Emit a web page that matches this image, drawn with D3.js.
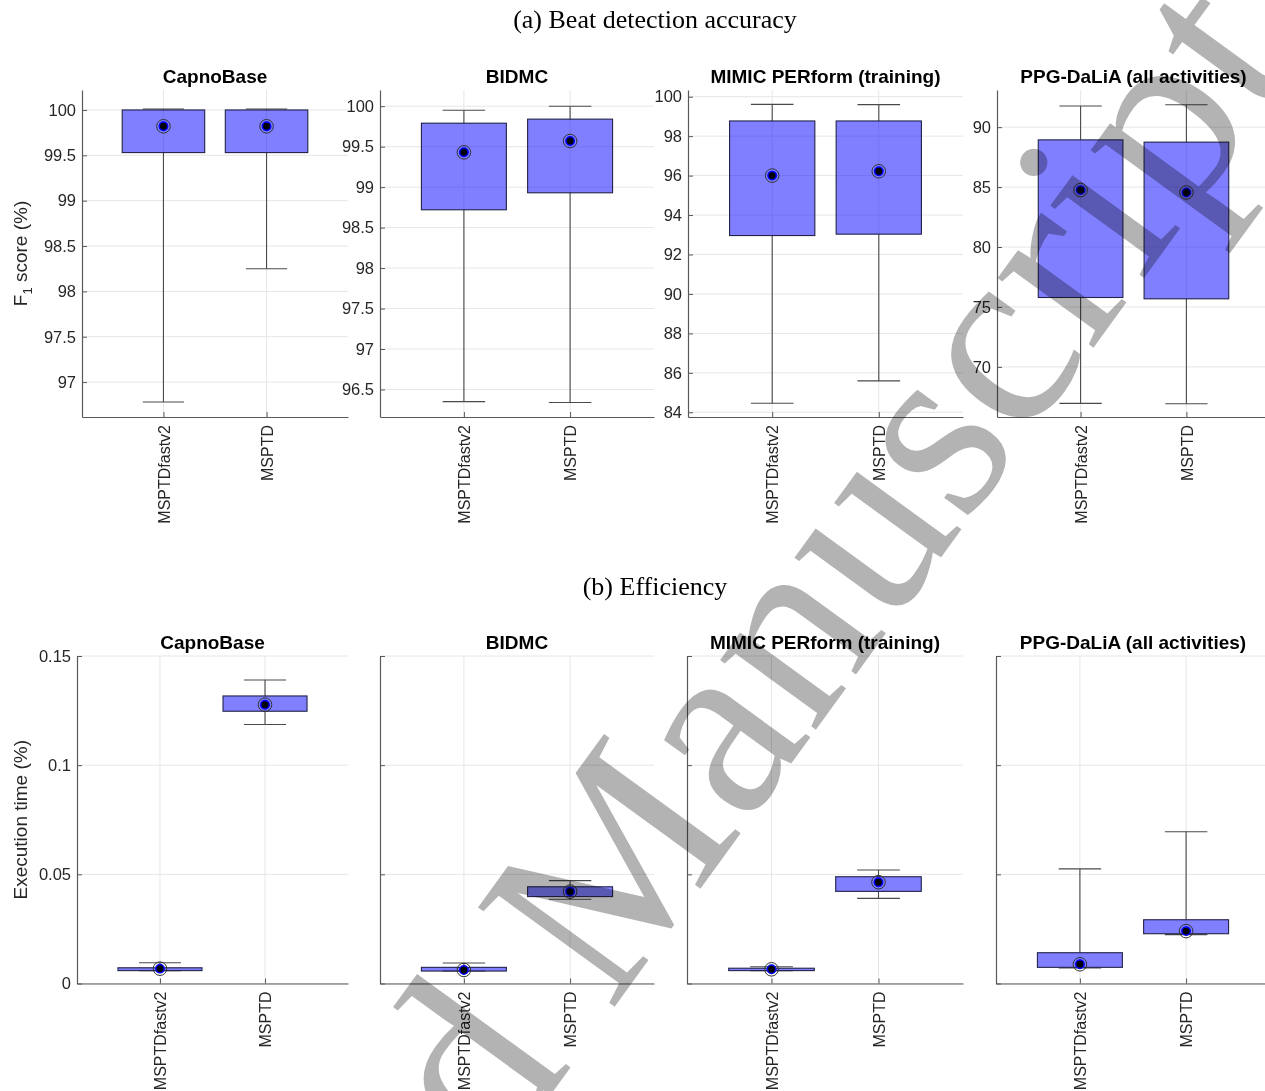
<!DOCTYPE html>
<html>
<head>
<meta charset="utf-8">
<script src="https://cdn.jsdelivr.net/npm/d3@7"></script>
<style>
  body { margin: 0; background: #fff; }
  svg { display: block; }
</style>
</head>
<body>
<svg id="fig" width="1265" height="1091"></svg>
<script>
// ---- data -------------------------------------------------------------
const methods = ["MSPTDfastv2", "MSPTD"];
const datasets = ["CapnoBase", "BIDMC", "MIMIC PERform (training)", "PPG-DaLiA (all activities)"];

// F1 score (%) box statistics: one [MSPTDfastv2, MSPTD] pair per dataset
const f1WhiskerLow  = [[96.78, 98.25], [96.35, 96.34], [84.46, 85.59], [66.96, 66.92]];
const f1Q1          = [[99.53, 99.53], [98.72, 98.93], [92.96, 93.03], [75.79, 75.68]];
const f1Median      = [[99.82, 99.82], [99.43, 99.57], [96.00, 96.22], [84.75, 84.55]];
const f1Q3          = [[100.0, 100.0], [99.79, 99.84], [98.77, 98.77], [88.94, 88.75]];
const f1WhiskerHigh = [[100.01, 100.01], [99.95, 100.0], [99.61, 99.60], [91.76, 91.87]];

// Execution time (%) box statistics
const timeWhiskerLow  = [[0.0059, 0.1186], [0.0057, 0.0386], [0.0059, 0.0390], [0.0071, 0.0224]];
const timeQ1          = [[0.0059, 0.1247], [0.0057, 0.0398], [0.0059, 0.0422], [0.0074, 0.0228]];
const timeMedian      = [[0.0068, 0.1277], [0.0062, 0.0421], [0.0065, 0.0464], [0.0088, 0.0240]];
const timeQ3          = [[0.0072, 0.1317], [0.0074, 0.0443], [0.0070, 0.0489], [0.0141, 0.0292]];
const timeWhiskerHigh = [[0.0095, 0.1390], [0.0094, 0.0471], [0.0077, 0.0520], [0.0525, 0.0695]];

// axis limits and tick values
const f1Limits = [[96.615, 100.22], [96.16, 100.2], [83.76, 100.34], [65.82, 93.1]];
const f1Ticks = [
  [97, 97.5, 98, 98.5, 99, 99.5, 100],
  [96.5, 97, 97.5, 98, 98.5, 99, 99.5, 100],
  [84, 86, 88, 90, 92, 94, 96, 98, 100],
  [70, 75, 80, 85, 90]
];
const timeLimits = [0, 0.15];
const timeTicks = [0, 0.05, 0.1, 0.15];
const xLimits = [0.21, 2.79];

// ---- layout -----------------------------------------------------------
const W = 1265, H = 1091;
const colsTop = [[82, 348], [380, 654], [688, 963], [997, 1270]];
const colsBottom = [[77, 348], [380, 654], [687, 963], [996, 1270]];
const rowTop = { top: 90, bottom: 417 };
const rowBottom = { top: 656, bottom: 983.5 };

const SANS = "'Liberation Sans', Arial, Helvetica, sans-serif";
const SERIF = "'Liberation Serif', 'Times New Roman', serif";
const AXIS_COLOR = "#595959";
const TEXT_COLOR = "#262626";

const svg = d3.select("#fig");
svg.append("rect").attr("width", W).attr("height", H).attr("fill", "#fff");

function drawPanel(cfg) {
  const g = svg.append("g");
  const x = d3.scaleLinear().domain(xLimits).range([cfg.x0, cfg.x1]);
  const y = d3.scaleLinear().domain(cfg.ylim).range([cfg.y1, cfg.y0]);

  // grid
  g.append("g").selectAll("line").data(cfg.ticks).join("line")
    .attr("x1", cfg.x0).attr("x2", cfg.x1)
    .attr("y1", d => y(d)).attr("y2", d => y(d))
    .attr("stroke", "#e6e6e6").attr("stroke-width", 1);
  g.append("g").selectAll("line").data([1, 2]).join("line")
    .attr("x1", d => x(d)).attr("x2", d => x(d))
    .attr("y1", cfg.y0).attr("y2", cfg.y1)
    .attr("stroke", "#e6e6e6").attr("stroke-width", 1);

  const rows = methods.map((m, i) => ({
    pos: i + 1,
    lo: cfg.lo[i], q1: cfg.q1[i], med: cfg.med[i], q3: cfg.q3[i], hi: cfg.hi[i]
  }));

  const boxHalf = 0.4, capHalf = 0.2;
  const items = g.append("g").selectAll("g").data(rows).join("g");

  // whiskers
  items.append("line")
    .attr("x1", d => x(d.pos)).attr("x2", d => x(d.pos))
    .attr("y1", d => y(d.q3)).attr("y2", d => y(d.hi))
    .attr("stroke", "#4a4a4a").attr("stroke-width", 1.1);
  items.append("line")
    .attr("x1", d => x(d.pos)).attr("x2", d => x(d.pos))
    .attr("y1", d => y(d.q1)).attr("y2", d => y(d.lo))
    .attr("stroke", "#4a4a4a").attr("stroke-width", 1.1);
  items.append("line")
    .attr("x1", d => x(d.pos - capHalf)).attr("x2", d => x(d.pos + capHalf))
    .attr("y1", d => y(d.hi)).attr("y2", d => y(d.hi))
    .attr("stroke", "#4a4a4a").attr("stroke-width", 1.1);
  items.append("line")
    .attr("x1", d => x(d.pos - capHalf)).attr("x2", d => x(d.pos + capHalf))
    .attr("y1", d => y(d.lo)).attr("y2", d => y(d.lo))
    .attr("stroke", "#4a4a4a").attr("stroke-width", 1.1);

  // interquartile boxes
  items.append("rect")
    .attr("x", d => x(d.pos - boxHalf))
    .attr("width", d => x(d.pos + boxHalf) - x(d.pos - boxHalf))
    .attr("y", d => y(d.q3))
    .attr("height", d => Math.max(1, y(d.q1) - y(d.q3)))
    .attr("fill", "rgba(0,0,255,0.5)")
    .attr("stroke", "#23234a").attr("stroke-width", 1.1);

  // median target markers
  items.append("circle")
    .attr("cx", d => x(d.pos)).attr("cy", d => y(d.med)).attr("r", 6.8)
    .attr("fill", "none").attr("stroke", "#333").attr("stroke-width", 1);
  items.append("circle")
    .attr("cx", d => x(d.pos)).attr("cy", d => y(d.med)).attr("r", 4.2)
    .attr("fill", "#000").attr("stroke", "#0000ff").attr("stroke-width", 1.5);

  // axes
  const yAxis = d3.axisLeft(y).tickValues(cfg.ticks)
    .tickSize(-5).tickSizeOuter(0).tickPadding(6)
    .tickFormat(cfg.showYLabels ? (d => String(d)) : "");
  const ya = g.append("g").attr("transform", `translate(${cfg.x0},0)`).call(yAxis);
  ya.select(".domain").attr("stroke", AXIS_COLOR).attr("stroke-width", 1.2);
  ya.selectAll(".tick line").attr("stroke", AXIS_COLOR);
  ya.selectAll("text").attr("fill", TEXT_COLOR)
    .style("font-family", SANS).style("font-size", "16.5px");

  const xAxis = d3.axisBottom(x).tickValues([1, 2])
    .tickSize(-5).tickSizeOuter(0)
    .tickFormat(d => methods[d - 1]);
  const xa = g.append("g").attr("transform", `translate(0,${cfg.y1})`).call(xAxis);
  xa.select(".domain").attr("stroke", AXIS_COLOR).attr("stroke-width", 1.2);
  xa.selectAll(".tick line").attr("stroke", AXIS_COLOR);
  xa.selectAll("text")
    .attr("transform", "rotate(-90)")
    .attr("text-anchor", "end")
    .attr("x", -8).attr("y", 0).attr("dy", "0.35em")
    .attr("fill", TEXT_COLOR)
    .style("font-family", SANS).style("font-size", "16px");

  // panel title
  g.append("text")
    .attr("x", (cfg.x0 + cfg.x1) / 2).attr("y", cfg.y0 - 7)
    .attr("text-anchor", "middle")
    .style("font-family", SANS).style("font-size", "19px").style("font-weight", "bold")
    .attr("fill", "#000")
    .text(cfg.title);
}

datasets.forEach((name, k) => {
  drawPanel({
    title: name,
    x0: colsTop[k][0], x1: colsTop[k][1],
    y0: rowTop.top, y1: rowTop.bottom,
    ylim: f1Limits[k], ticks: f1Ticks[k], showYLabels: true,
    lo: f1WhiskerLow[k], q1: f1Q1[k], med: f1Median[k], q3: f1Q3[k], hi: f1WhiskerHigh[k]
  });
  drawPanel({
    title: name,
    x0: colsBottom[k][0], x1: colsBottom[k][1],
    y0: rowBottom.top, y1: rowBottom.bottom,
    ylim: timeLimits, ticks: timeTicks, showYLabels: k === 0,
    lo: timeWhiskerLow[k], q1: timeQ1[k], med: timeMedian[k], q3: timeQ3[k], hi: timeWhiskerHigh[k]
  });
});

// y-axis labels
const f1Label = svg.append("text")
  .attr("transform", `translate(27,${(rowTop.top + rowTop.bottom) / 2}) rotate(-90)`)
  .attr("text-anchor", "middle")
  .attr("fill", TEXT_COLOR)
  .style("font-family", SANS).style("font-size", "19px");
f1Label.append("tspan").text("F");
f1Label.append("tspan").attr("dy", 5).style("font-size", "13px").text("1");
f1Label.append("tspan").attr("dy", -5).text(" score (%)");

svg.append("text")
  .attr("transform", `translate(27,${(rowBottom.top + rowBottom.bottom) / 2}) rotate(-90)`)
  .attr("text-anchor", "middle")
  .attr("fill", TEXT_COLOR)
  .style("font-family", SANS).style("font-size", "19px")
  .text("Execution time (%)");

// section captions
svg.append("text")
  .attr("x", 655).attr("y", 28).attr("text-anchor", "middle")
  .style("font-family", SERIF).style("font-size", "26px").attr("fill", "#000")
  .text("(a) Beat detection accuracy");
svg.append("text")
  .attr("x", 655).attr("y", 595).attr("text-anchor", "middle")
  .style("font-family", SERIF).style("font-size", "26px").attr("fill", "#000")
  .text("(b) Efficiency");

// diagonal watermark, multiplied over the figure
svg.append("text")
  .attr("transform", "translate(1301,62) rotate(-54)")
  .attr("text-anchor", "end")
  .style("font-family", SERIF).style("font-size", "258px")
  .style("mix-blend-mode", "multiply")
  .attr("fill", "#b3b3b3")
  .text("Accepted Manuscript");
</script>
</body>
</html>
